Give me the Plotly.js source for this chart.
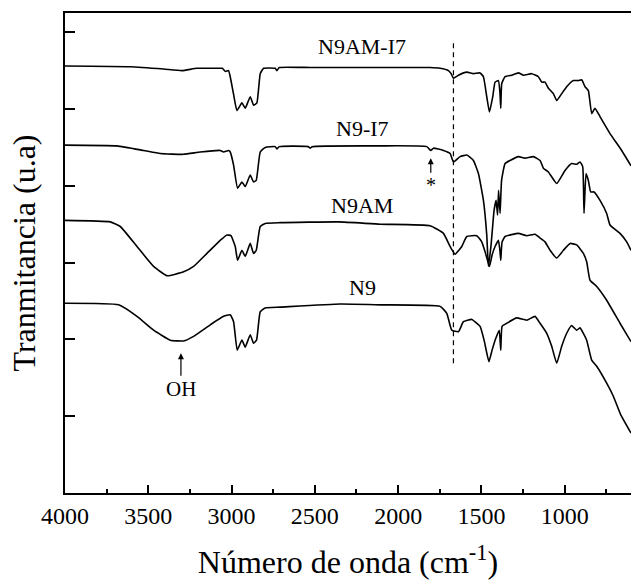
<!DOCTYPE html>
<html>
<head>
<meta charset="utf-8">
<script src="https://cdn.plot.ly/plotly-3.0.1.min.js"></script>
<style>html,body{margin:0;padding:0;background:#fff;overflow:hidden;}</style>
</head>
<body>
<div id="chart" style="width:631px;height:580px;"></div>
<script>
// FTIR spectra, wavenumber (cm-1) and transmittance (a.u., stacked)
const wnN9AMI7 = [4000,3608,3408,3298,3208,3088,3056,3038,3018,3008,2987,2968,2938,2918,2888,2868,2848,2828,2808,2738,2728,2714,2528,2324,1988,1808,1748,1698,1682,1668,1638,1588,1548,1508,1488,1468,1452,1432,1418,1398,1389,1384,1378,1358,1318,1278,1248,1198,1158,1138,1118,1098,1068,1048,1018,988,948,918,898,878,858,838,818,788,728,658,602];
const tN9AMI7  = [5.56,5.55,5.52,5.50,5.53,5.53,5.53,5.49,5.50,5.42,5.18,4.98,5.08,5.01,5.16,5.05,5.08,5.46,5.53,5.53,5.50,5.54,5.54,5.54,5.54,5.54,5.53,5.50,5.46,5.40,5.44,5.48,5.46,5.47,5.42,5.16,4.96,5.16,5.35,5.37,5.22,5.01,5.33,5.42,5.44,5.47,5.44,5.46,5.42,5.35,5.35,5.27,5.20,5.11,5.20,5.29,5.37,5.37,5.38,5.29,5.24,4.94,5.01,4.90,4.68,4.46,4.26];

const wnN9I7 = [4000,3688,3528,3428,3288,3188,3068,3048,3018,3008,2988,2964,2938,2918,2888,2868,2852,2828,2798,2738,2728,2714,2540,2528,2516,2108,1828,1804,1788,1728,1688,1668,1628,1588,1548,1518,1488,1468,1458,1442,1424,1412,1403,1397,1388,1379,1358,1328,1278,1238,1188,1148,1128,1098,1048,998,958,928,908,892,884,872,858,844,824,788,748,728,668,628,602];
const tN9I7  = [4.53,4.52,4.46,4.42,4.41,4.44,4.46,4.44,4.46,4.44,4.27,3.97,4.05,3.99,4.14,4.05,4.07,4.44,4.50,4.51,4.48,4.51,4.51,4.49,4.51,4.52,4.51,4.46,4.49,4.46,4.42,4.31,4.38,4.40,4.33,4.16,3.81,3.36,2.95,3.23,3.68,3.81,3.62,3.94,3.64,4.07,4.29,4.33,4.38,4.36,4.38,4.33,4.23,4.18,4.03,4.20,4.29,4.28,4.31,4.25,3.64,4.16,4.07,3.92,3.92,3.81,3.64,3.49,3.38,3.27,3.16];

const wnN9AM = [4000,3728,3668,3568,3468,3388,3288,3228,3148,3068,3028,3004,2978,2964,2938,2918,2888,2868,2852,2828,2798,2708,2357,2108,1808,1728,1688,1658,1618,1588,1528,1498,1478,1452,1436,1418,1398,1389,1384,1376,1358,1278,1228,1178,1148,1118,1088,1048,1008,968,928,888,868,848,808,748,668,602];
const tN9AM  = [3.55,3.53,3.47,3.21,2.95,2.83,2.88,2.95,3.12,3.29,3.36,3.35,3.21,3.03,3.16,3.08,3.25,3.12,3.16,3.47,3.51,3.52,3.53,3.50,3.48,3.38,3.21,3.11,3.21,3.34,3.35,3.27,3.14,2.95,3.10,3.21,3.29,3.16,3.03,3.27,3.34,3.38,3.35,3.37,3.32,3.27,3.16,3.06,3.16,3.25,3.23,3.12,3.01,2.77,2.69,2.51,2.21,1.97];

const wnN9 = [4000,3678,3568,3468,3368,3288,3228,3128,3048,3008,2988,2966,2938,2918,2888,2868,2850,2828,2798,2708,2348,2108,1748,1708,1678,1638,1608,1558,1508,1484,1455,1436,1418,1393,1384,1376,1348,1288,1228,1178,1148,1108,1078,1048,1018,988,958,928,908,888,868,838,808,748,708,664,602];
const tN9  = [2.47,2.45,2.30,2.12,1.99,1.98,2.04,2.19,2.30,2.32,2.23,1.86,1.99,1.90,2.06,1.95,1.99,2.36,2.41,2.42,2.46,2.45,2.43,2.34,2.12,2.10,2.23,2.26,2.17,1.99,1.71,1.86,1.99,2.12,1.86,2.17,2.21,2.28,2.25,2.30,2.21,2.08,1.91,1.69,1.91,2.08,2.18,2.12,2.15,2.08,1.99,1.73,1.65,1.43,1.26,1.02,0.78];

const seriesNames = ['N9AM-I7','N9-I7','N9AM','N9'];
const labelY = [5.82,4.75,3.74,2.68];
const labelX = 2216;
const markerLine = 1668;
const markerLineY = [1.69,5.87];
const ohPoint = {x:3304, y:1.82, text:'OH'};
const starPoint = {x:1804, y:4.36, text:'*'};
const xTickVals = [4000,3500,3000,2500,2000,1500,1000];

const serif = 'Liberation Serif, Times New Roman, serif';
const lineStyle = {color:'#000', width:1.6, shape:'spline', smoothing:0.4};
const traces = [
  {x:wnN9AMI7, y:tN9AMI7, name:seriesNames[0]},
  {x:wnN9I7, y:tN9I7, name:seriesNames[1]},
  {x:wnN9AM, y:tN9AM, name:seriesNames[2]},
  {x:wnN9, y:tN9, name:seriesNames[3]}
].map(t => Object.assign(t, {type:'scatter', mode:'lines', line:lineStyle, hoverinfo:'skip'}));

const annotations = seriesNames.map((n,i) => ({
  x:labelX, y:labelY[i], xref:'x', yref:'y', text:n, showarrow:false,
  font:{family:serif, size:22, color:'#000'}, xanchor:'center', yanchor:'middle'
}));
annotations.push({x:ohPoint.x, y:ohPoint.y, xref:'x', yref:'y', text:ohPoint.text, showarrow:true,
  ax:0, ay:36, arrowhead:2, arrowsize:1, arrowwidth:1.2, arrowcolor:'#000',
  font:{family:serif, size:21, color:'#000'}});
annotations.push({x:starPoint.x, y:starPoint.y, xref:'x', yref:'y', text:starPoint.text, showarrow:true,
  ax:0, ay:27, arrowhead:2, arrowsize:1, arrowwidth:1.2, arrowcolor:'#000',
  font:{family:serif, size:20, color:'#000'}});

const layout = {
  width:631, height:580,
  margin:{l:65, r:0, t:13, b:87},
  paper_bgcolor:'#fff', plot_bgcolor:'#fff',
  showlegend:false,
  font:{family:serif, color:'#000'},
  xaxis:{
    range:[4000,602], tickvals:xTickVals, ticktext:xTickVals.map(String),
    ticks:'inside', ticklen:8, tickwidth:2, tickcolor:'#000',
    minor:{dtick:250, ticks:'inside', ticklen:4, tickwidth:2, tickcolor:'#000', tick0:0},
    showline:true, linewidth:2, linecolor:'#000', mirror:true,
    showgrid:false, zeroline:false,
    tickfont:{family:serif, size:24, color:'#000'},
    title:{text:'Número de onda (cm<sup>-1</sup>)', font:{family:serif, size:32, color:'#000'}, standoff:24}
  },
  yaxis:{
    range:[0,6.25], dtick:1, tick0:0,
    ticks:'inside', ticklen:10, tickwidth:2, tickcolor:'#000',
    showticklabels:false,
    showline:true, linewidth:2, linecolor:'#000', mirror:false,
    showgrid:false, zeroline:false,
    title:{text:'Tranmitancia (u.a)', font:{family:serif, size:32, color:'#000'}, standoff:18}
  },
  shapes:[{type:'line', xref:'x', yref:'y', x0:markerLine, x1:markerLine, y0:markerLineY[0], y1:markerLineY[1],
    line:{color:'#000', width:1.2, dash:'5px,4px'}}],
  annotations:annotations
};

Plotly.newPlot('chart', traces, layout, {displayModeBar:false, staticPlot:true});
</script>
</body>
</html>
